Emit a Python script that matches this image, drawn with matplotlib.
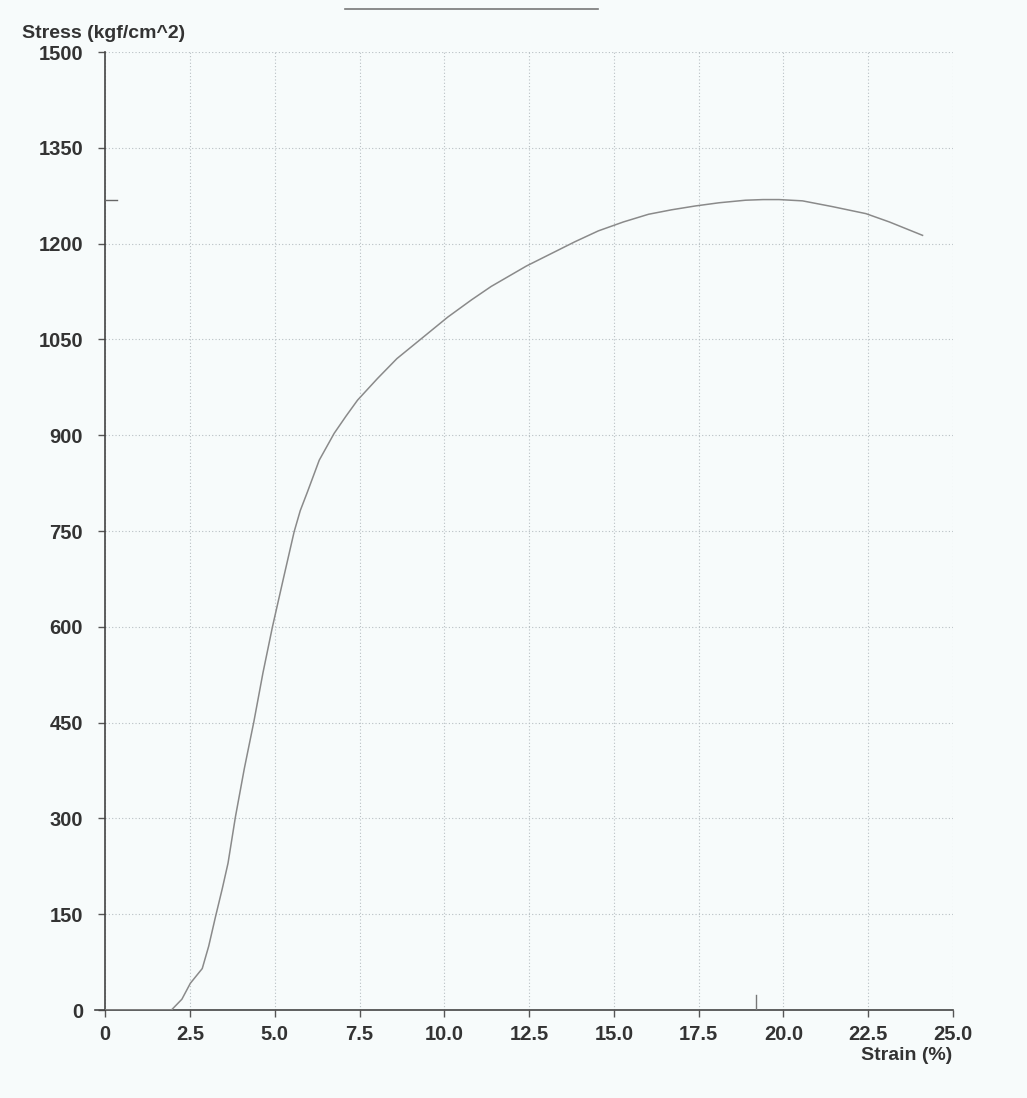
import matplotlib.pyplot as plt

# strain (%) and stress (kgf/cm^2)
strain = [0.0, 0.5, 1.0, 1.5, 1.95, 2.26, 2.51, 2.86, 3.05, 3.25, 3.45, 3.62,
          3.84, 4.1, 4.38, 4.65, 4.93, 5.25, 5.57, 5.75, 5.96, 6.31, 6.75,
          7.1, 7.44, 8.03, 8.6, 9.27, 10.1, 10.8, 11.38, 12.42, 13.85, 14.54,
          15.28, 16.02, 16.7, 17.4, 18.1, 18.88, 19.4, 19.87, 20.56, 21.44,
          22.43, 23.12, 24.1]
stress = [0, 0, 0, 0, 0, 17, 42, 65, 100, 146, 190, 230,
          303, 378, 451, 528, 600, 675, 749, 782, 811, 861, 903,
          930, 955, 989, 1020, 1049, 1085, 1112, 1133, 1165, 1203, 1220,
          1234, 1246, 1253, 1259, 1264, 1268, 1269, 1269, 1267, 1258,
          1247, 1234, 1213]

max_stress = 1268
break_strain = 19.2

x_ticks = [0, 2.5, 5.0, 7.5, 10.0, 12.5, 15.0, 17.5, 20.0, 22.5, 25.0]
x_labels = ["0", "2.5", "5.0", "7.5", "10.0", "12.5", "15.0", "17.5",
            "20.0", "22.5", "25.0"]
y_ticks = [0, 150, 300, 450, 600, 750, 900, 1050, 1200, 1350, 1500]

bg = "#f7fbfb"
ink = "#333333"
plt.rcParams['font.family'] = ['Liberation Sans', 'DejaVu Sans']

fig = plt.figure(figsize=(10.27, 10.98), dpi=100, facecolor=bg)
ax = fig.add_axes([0.1025, 0.0801, 0.8255, 0.8725], facecolor=bg)

ax.plot(strain, stress, color="#8a8a8a", linewidth=1.1, zorder=3)

# marker of peak stress on the y axis and break point on the x axis
ax.plot([0, 0.35], [max_stress, max_stress], color="#666666", linewidth=1.0,
        clip_on=False, zorder=4)
ax.plot([break_strain, break_strain], [0, 23], color="#777777", linewidth=1.0,
        zorder=4)
# short stub of the strain axis left of zero
ax.plot([-0.3, 0], [0, 0], color="#444444", linewidth=1.2, clip_on=False)

ax.set_xlim(0, 25)
ax.set_ylim(0, 1500)
ax.set_xticks(x_ticks)
ax.set_xticklabels(x_labels)
ax.set_yticks(y_ticks)

ax.grid(True, color="#b8c0c4", linestyle=(0, (1, 2)), linewidth=0.8)
for s in ["top", "right"]:
    ax.spines[s].set_visible(False)
for s in ["left", "bottom"]:
    ax.spines[s].set_color("#444444")
    ax.spines[s].set_linewidth(1.2)

ax.tick_params(axis="both", colors="#555555", labelcolor=ink, labelsize=14.5,
               length=5, width=1.0, direction="out")
ax.tick_params(axis="y", pad=11)
ax.tick_params(axis="x", pad=6)
for lbl in ax.get_xticklabels() + ax.get_yticklabels():
    lbl.set_fontweight("bold")

fig.text(0.021, 0.962, "Stress (kgf/cm^2)", fontsize=14, fontweight="bold",
         color=ink, ha="left", va="bottom")
fig.text(0.927, 0.039, "Strain (%)", fontsize=14, fontweight="bold",
         color=ink, ha="right", va="center")

# rule above the chart
fig.add_artist(plt.Line2D([0.336, 0.582], [0.992, 0.992], color="#777777",
                          linewidth=1.2))

fig.savefig("out.png", dpi=100, facecolor=bg)
